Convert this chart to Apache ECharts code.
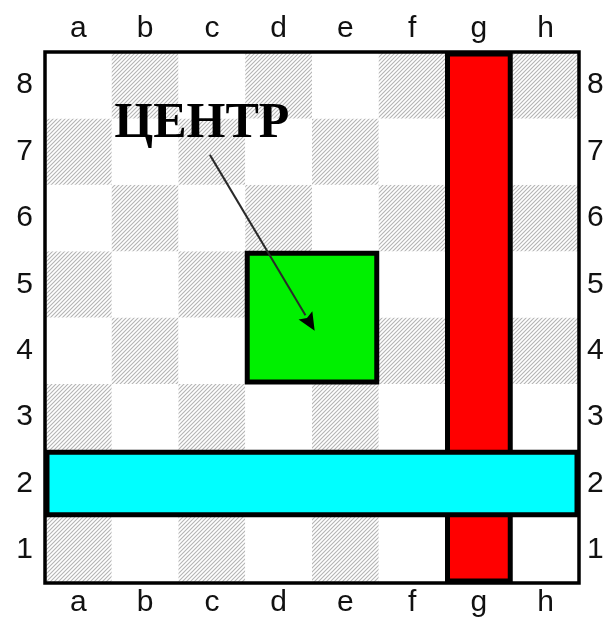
<!DOCTYPE html>
<html><head><meta charset="utf-8">
<script src="https://cdn.jsdelivr.net/npm/echarts@6/dist/echarts.min.js"></script>
<style>html,body{margin:0;padding:0;background:#fff}#chart{width:608px;height:620px}</style>
</head><body><div id="chart"></div>
<script>
// ---- data ----
const files = ['a','b','c','d','e','f','g','h'];
const ranks = ['1','2','3','4','5','6','7','8'];
// highlighted zones: [fromFile, fromRank, toFile, toRank]
const fileZone = ['g','1','g','8'];     // red vertical (file g)
const rankZone = ['a','2','h','2'];     // cyan horizontal (rank 2)
const centerZone = ['d','4','e','5'];   // green centre
const centerLabel = 'ЦЕНТР';

// ---- layout / style constants ----
const LABEL_AT = [2.35, 6.92];   // board units (0..8)
const ARROW_FROM = [2.47, 6.45];
const ARROW_TO = [4.04, 3.80];

function hatch() {
  const c = document.createElement('canvas');
  c.width = 4; c.height = 4;
  const g = c.getContext('2d');
  g.fillStyle = '#ffffff'; g.fillRect(0,0,4,4);
  g.strokeStyle = '#b4b4b4'; g.lineWidth = 1.1;
  g.beginPath();
  g.moveTo(0,4); g.lineTo(4,0);
  g.moveTo(-1,1); g.lineTo(1,-1);
  g.moveTo(3,5); g.lineTo(5,3);
  g.stroke();
  return c;
}
const hatchPattern = { image: hatch(), repeat: 'repeat' };

const cells = [];
files.forEach((f, i) => ranks.forEach((r, j) => cells.push([i, j])));
const zoneIdx = z => [files.indexOf(z[0]), ranks.indexOf(z[1]), files.indexOf(z[2]), ranks.indexOf(z[3])];

function boardPt(api, u, v) {
  const o = api.coord([0, 0]);
  const s = api.size([1, 1]);
  return [o[0] + (u - 0.5) * s[0], o[1] - (v - 0.5) * s[1]];
}

function cellRender(params, api) {
  const i = api.value(0), j = api.value(1);
  const p = api.coord([i, j]);
  const s = api.size([1, 1]);
  const dark = (i + j) % 2 === 0;
  return { type: 'rect',
    shape: { x: p[0] - s[0]/2, y: p[1] - s[1]/2, width: s[0], height: s[1] },
    style: { fill: dark ? hatchPattern : '#ffffff' } };
}

function zoneRender(params, api) {
  const p0 = api.coord([api.value(0), api.value(1)]);
  const p1 = api.coord([api.value(2), api.value(3)]);
  const s = api.size([1, 1]);
  const x0 = Math.min(p0[0], p1[0]) - s[0]/2, x1 = Math.max(p0[0], p1[0]) + s[0]/2;
  const y0 = Math.min(p0[1], p1[1]) - s[1]/2, y1 = Math.max(p0[1], p1[1]) + s[1]/2;
  return { type: 'rect',
    shape: { x: x0 + 2, y: y0 + 2, width: x1 - x0 - 4, height: y1 - y0 - 4 },
    style: { fill: api.visual('color'), stroke: '#000', lineWidth: 5 } };
}

function borderRender(params, api) {
  const a = boardPt(api, 0, 8), b = boardPt(api, 8, 0);
  return { type: 'rect', shape: { x: a[0], y: a[1], width: b[0]-a[0], height: b[1]-a[1] },
    style: { fill: 'none', stroke: '#000', lineWidth: 3.5 } };
}

function annotRender(params, api) {
  const t = boardPt(api, LABEL_AT[0], LABEL_AT[1]);
  const a = boardPt(api, ARROW_FROM[0], ARROW_FROM[1]);
  const b = boardPt(api, ARROW_TO[0], ARROW_TO[1]);
  const dx = b[0]-a[0], dy = b[1]-a[1], L = Math.hypot(dx, dy);
  const ux = dx/L, uy = dy/L, hl = 18, hw = 8;
  const bx = b[0] - ux*hl, by = b[1] - uy*hl;
  return { type: 'group', children: [
    { type: 'line', shape: { x1: a[0], y1: a[1], x2: bx, y2: by },
      style: { stroke: '#2a2a2a', lineWidth: 2 } },
    { type: 'polygon', shape: { points: [[b[0], b[1]], [bx - uy*hw, by + ux*hw], [bx + ux*3, by + uy*3], [bx + uy*hw, by - ux*hw]] },
      style: { fill: '#000' } },
    { type: 'text', style: { text: centerLabel, x: t[0], y: t[1], align: 'center', verticalAlign: 'middle',
      fontFamily: '"Liberation Serif", "DejaVu Serif", serif', fontWeight: 'bold', fontSize: 50, fill: '#000' } }
  ]};
}

const labelStyle = { fontFamily: '"Liberation Sans", Arial, sans-serif', fontSize: 30, color: '#111' };
const xAx = (pos, margin) => ({ type: 'category', data: files, position: pos, boundaryGap: true,
  axisLine: { show: false }, axisTick: { show: false }, splitLine: { show: false },
  axisLabel: Object.assign({ margin }, labelStyle) });
const yAx = (pos, margin) => ({ type: 'category', data: ranks, position: pos, boundaryGap: true,
  axisLine: { show: false }, axisTick: { show: false }, splitLine: { show: false },
  axisLabel: Object.assign({ margin }, labelStyle) });

const chart = echarts.init(document.getElementById('chart'), null, { renderer: 'canvas' });
chart.setOption({
  animation: false,
  backgroundColor: '#ffffff',
  grid: { left: 45, right: 29, top: 52, bottom: 37 },
  xAxis: [xAx('top', 8), xAx('bottom', 5)],
  yAxis: [yAx('left', 12), yAx('right', 8)],
  series: [
    { type: 'custom', z: 1, renderItem: cellRender, data: cells, encode: { x: 0, y: 1 } },
    { type: 'custom', z: 2, renderItem: zoneRender, itemStyle: { color: '#ff0000' }, data: [zoneIdx(fileZone)], encode: { x: [0, 2], y: [1, 3] } },
    { type: 'custom', z: 3, renderItem: zoneRender, itemStyle: { color: '#00ffff' }, data: [zoneIdx(rankZone)], encode: { x: [0, 2], y: [1, 3] } },
    { type: 'custom', z: 3, renderItem: zoneRender, itemStyle: { color: '#00f000' }, data: [zoneIdx(centerZone)], encode: { x: [0, 2], y: [1, 3] } },
    { type: 'custom', z: 4, renderItem: borderRender, data: [[0, 0]], encode: { x: 0, y: 1 } },
    { type: 'custom', z: 5, renderItem: annotRender, data: [[0, 0]], encode: { x: 0, y: 1 } }
  ]
});
</script></body></html>
